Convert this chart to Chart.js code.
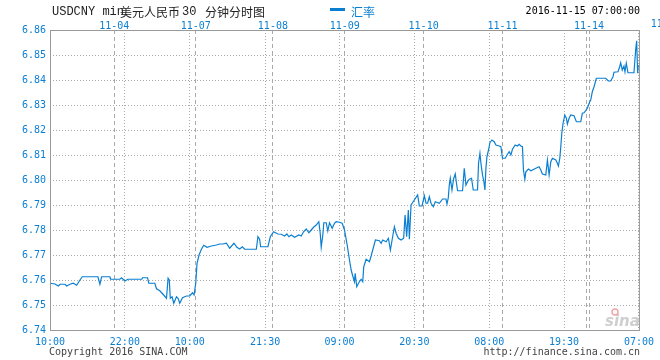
<!DOCTYPE html>
<html>
<head>
<meta charset="utf-8">
<script src="https://cdn.jsdelivr.net/npm/chart.js@4.4.0/dist/chart.umd.min.js"></script>
<style>
  body { margin: 0; background: #fff; }
  canvas { display: block; }
</style>
</head>
<body>
<canvas id="myChart" width="660" height="360"></canvas>
<script>
// position on the time axis (0 = 11-03 10:00, 590 = 11-15 07:00) and the USD/CNY rate there
const slot = [0, 5, 8.3, 10, 15, 16.7, 20, 23.3, 26.7, 30, 32.3, 48, 50, 51.7, 60, 60.7, 70, 71.7, 75, 78,
  92, 92.7, 97.7, 99, 105, 106.7, 110, 113, 116.7, 118.3, 119.5, 120.5, 122.3, 124, 126.7, 128.3, 130, 132.7, 136.7, 140,
  142.7, 144.3, 146, 147.3, 149.3, 151.7, 154, 157.3, 161.7, 166.7, 170, 173.3, 176.7, 180, 184.3, 187.3, 190, 192.7, 195, 206.7,
  208.3, 210, 211, 218.3, 220.7, 224, 228.3, 231.7, 235, 237.3, 239.3, 241.7, 245, 249.3, 251.7, 254, 256.7, 259.3, 261.7, 264,
  266.7, 269.3, 270.7, 271.7, 273.3, 274.3, 276.7, 278.3, 280, 282.7, 285, 286.7, 290, 292.7, 295, 297.7, 300, 301.7, 303.3, 305,
  305.7, 307.3, 309.3, 311.7, 313.3, 314.3, 316.7, 320, 321.7, 323.3, 326, 330, 331.7, 333.3, 336.7, 339, 341, 342.7, 345, 346.7,
  349, 351.7, 354.3, 355.7, 357.3, 359, 360, 361.7, 365, 368.3, 370, 372.7, 375, 376.7, 378.3, 380, 381.7, 384, 386, 390,
  393.3, 396.7, 397.7, 399, 400, 401, 402.7, 404.3, 406, 407.3, 408.3, 413.3, 415, 416.7, 418.3, 420, 422.3, 424, 428.3, 429.3,
  430.7, 431.7, 433.3, 434.7, 435.7, 436.7, 437.7, 439.3, 440.7, 442.7, 445, 446.7, 450, 451.7, 453.3, 456, 458.3, 460, 461.7, 463.3,
  466, 468.3, 470, 471.7, 473.3, 474.3, 475.7, 476.7, 479.3, 481.7, 486.7, 490, 491.7, 493.3, 496.7, 498.3, 500, 501.7, 503.3, 506.7,
  508.3, 509.3, 510.7, 511.7, 512.7, 514, 515.7, 517.3, 518.3, 520, 521.7, 525, 527.3, 531.7, 533.3, 535, 538.3, 540.7, 541.7, 543.3,
  545, 547.3, 556.7, 559.3, 561.7, 564, 565, 569, 570.7, 571.7, 573.3, 575, 576, 577.3, 579, 585, 586.7, 587.7, 588.7, 589.3];
const rate = [6.7587, 6.7584, 6.7576, 6.7583, 6.7583, 6.7576, 6.7583, 6.7587, 6.7579, 6.7600, 6.7613, 6.7613, 6.7583, 6.7613, 6.7613, 6.7603, 6.7603, 6.7609, 6.7596, 6.7603,
  6.7603, 6.7609, 6.7609, 6.7587, 6.7587, 6.7565, 6.7557, 6.7544, 6.7527, 6.7607, 6.7600, 6.7527, 6.7533, 6.7507, 6.7533, 6.7527, 6.7507, 6.7529, 6.7536, 6.7536,
  6.7549, 6.7540, 6.7587, 6.7667, 6.7700, 6.7723, 6.7739, 6.7731, 6.7736, 6.7740, 6.7744, 6.7744, 6.7747, 6.7727, 6.7747, 6.7731, 6.7724, 6.7733, 6.7723, 6.7723,
  6.7773, 6.7763, 6.7733, 6.7733, 6.7773, 6.7793, 6.7784, 6.7783, 6.7776, 6.7784, 6.7773, 6.7780, 6.7771, 6.7780, 6.7776, 6.7793, 6.7804, 6.7789, 6.7800, 6.7811,
  6.7820, 6.7833, 6.7787, 6.7731, 6.7780, 6.7829, 6.7829, 6.7796, 6.7829, 6.7807, 6.7827, 6.7833, 6.7831, 6.7827, 6.7800, 6.7740, 6.7680, 6.7640, 6.7616, 6.7593,
  6.7627, 6.7573, 6.7589, 6.7603, 6.7593, 6.7653, 6.7683, 6.7673, 6.7696, 6.7720, 6.7760, 6.7757, 6.7747, 6.7760, 6.7753, 6.7767, 6.7720, 6.7760, 6.7813, 6.7787,
  6.7767, 6.7760, 6.7767, 6.7860, 6.7773, 6.7880, 6.7763, 6.7900, 6.7920, 6.7940, 6.7896, 6.7896, 6.7937, 6.7907, 6.7907, 6.7933, 6.7907, 6.7893, 6.7913, 6.7907,
  6.7924, 6.7924, 6.7904, 6.7929, 6.7980, 6.8007, 6.7960, 6.8004, 6.8024, 6.7984, 6.7957, 6.7957, 6.8047, 6.7980, 6.7993, 6.8003, 6.8007, 6.7960, 6.7960, 6.8067,
  6.8107, 6.8067, 6.8020, 6.7993, 6.7960, 6.8047, 6.8093, 6.8120, 6.8149, 6.8160, 6.8153, 6.8140, 6.8136, 6.8133, 6.8087, 6.8087, 6.8103, 6.8113, 6.8100, 6.8123,
  6.8140, 6.8136, 6.8143, 6.8136, 6.8133, 6.8040, 6.8003, 6.8033, 6.8044, 6.8037, 6.8047, 6.8053, 6.8040, 6.8024, 6.8020, 6.8080, 6.8020, 6.8073, 6.8087, 6.8080,
  6.8067, 6.8056, 6.8087, 6.8133, 6.8187, 6.8227, 6.8260, 6.8247, 6.8224, 6.8247, 6.8260, 6.8257, 6.8233, 6.8233, 6.8267, 6.8269, 6.8287, 6.8313, 6.8320, 6.8353,
  6.8373, 6.8407, 6.8407, 6.8396, 6.8396, 6.8413, 6.8431, 6.8433, 6.8453, 6.8469, 6.8440, 6.8456, 6.8433, 6.8467, 6.8429, 6.8429, 6.8520, 6.8557, 6.8427, 6.8460];

const timeTicks = [0, 75, 140, 215.5, 290, 365, 440, 515, 590];
const timeLabels = ['10:00', '22:00', '10:00', '21:30', '09:00', '20:30', '08:00', '19:30', '07:00'];
const dayTicks = [64.3, 146, 223.3, 295.3, 374.3, 453.3, 537, 540];
const dayLabels = ['11-04', '11-07', '11-08', '11-09', '11-10', '11-11', '', '11-14'];
const lastDay = 617, lastDayLabel = '11-15';
const yTicks = [6.74, 6.75, 6.76, 6.77, 6.78, 6.79, 6.80, 6.81, 6.82, 6.83, 6.84, 6.85, 6.86];

const blue = '#0a7fd2';
const mono = '"DejaVu Sans Mono", monospace';
const cjk = '"Noto Sans CJK SC", sans-serif';

Chart.defaults.font.family = mono;
Chart.defaults.font.size = 10;

const decor = {
  id: 'decor',
  beforeDatasetsDraw(chart) {
    const c = chart.ctx;
    c.save();
    c.fillStyle = '#cfcfcf';
    c.font = 'italic bold 15px "DejaVu Sans"';
    c.textBaseline = 'alphabetic';
    c.fillText('sina', 605, 326);
    c.strokeStyle = '#f2a6a6';
    c.lineWidth = 1.5;
    c.beginPath();
    c.arc(615, 312, 3, 0, Math.PI * 2);
    c.stroke();
    c.restore();
  },
  afterDraw(chart) {
    const c = chart.ctx, a = chart.chartArea;
    c.save();
    c.strokeStyle = '#999';
    c.lineWidth = 1;
    c.strokeRect(a.left + 0.5, a.top + 0.5, a.right - a.left, a.bottom - a.top);

    c.textBaseline = 'middle';
    c.fillStyle = '#222';
    c.font = '12px "Liberation Mono", monospace';
    c.fillText('USDCNY min', 52, 12);
    c.font = '12px ' + cjk;
    c.fillText('美元人民币', 120, 12);
    c.font = '12px "Liberation Mono", monospace';
    c.fillText('30', 182, 12);
    c.font = '12px ' + cjk;
    c.fillText('分钟分时图', 205, 12);

    c.fillStyle = blue;
    c.fillRect(330, 8, 15, 3);
    c.fillText('汇率', 351, 12);

    c.fillStyle = '#000';
    c.font = '10px ' + mono;
    c.textAlign = 'right';
    c.fillText('2016-11-15 07:00:00', 640, 11.5);

    c.fillStyle = blue;
    c.textAlign = 'center';
    c.fillText(lastDayLabel, chart.scales.x2.getPixelForValue(lastDay), 24.5);

    c.fillStyle = '#444';
    c.textAlign = 'left';
    c.fillText('Copyright 2016 SINA.COM', 49, 352);
    c.textAlign = 'right';
    c.fillText('http://finance.sina.com.cn', 640, 352);
    c.restore();
  }
};

var ctx = document.getElementById('myChart').getContext('2d');

var myChart = new Chart(ctx, {
  type: 'line',
  data: {
    datasets: [{
      label: '汇率',
      data: slot.map((s, i) => ({ x: s, y: rate[i] })),
      borderColor: blue,
      borderWidth: 1.2,
      pointRadius: 0,
      tension: 0,
      fill: false
    }]
  },
  options: {
    responsive: false,
    animation: false,
    layout: { padding: { right: 20 } },
    plugins: {
      legend: { display: false },
      tooltip: { enabled: false }
    },
    scales: {
      x: {
        type: 'linear',
        position: 'bottom',
        min: 0,
        max: 590,
        afterBuildTicks: s => { s.ticks = timeTicks.map(v => ({ value: v })); },
        afterFit: s => { s.height = 30; },
        ticks: {
          autoSkip: false,
          maxRotation: 0,
          padding: 6,
          color: blue,
          callback: (v, i) => timeLabels[i]
        },
        grid: { color: '#aaa', drawTicks: false },
        border: { display: false, dash: [1, 2] }
      },
      x2: {
        type: 'linear',
        position: 'top',
        min: 0,
        max: 590,
        afterBuildTicks: s => { s.ticks = dayTicks.map(v => ({ value: v })); },
        afterFit: s => { s.height = 30; },
        ticks: {
          autoSkip: false,
          maxRotation: 0,
          padding: -2,
          color: blue,
          callback: (v, i) => dayLabels[i]
        },
        grid: { color: '#aaa', drawTicks: false },
        border: { display: false, dash: [4, 3] }
      },
      y: {
        type: 'linear',
        min: 6.74,
        max: 6.86,
        afterBuildTicks: s => { s.ticks = yTicks.map(v => ({ value: v })); },
        afterFit: s => { s.width = 50; },
        ticks: {
          padding: 4,
          color: blue,
          callback: v => v.toFixed(2)
        },
        grid: { color: '#aaa', drawTicks: false },
        border: { display: false, dash: [1, 2] }
      }
    }
  },
  plugins: [decor]
});
</script>
</body>
</html>
